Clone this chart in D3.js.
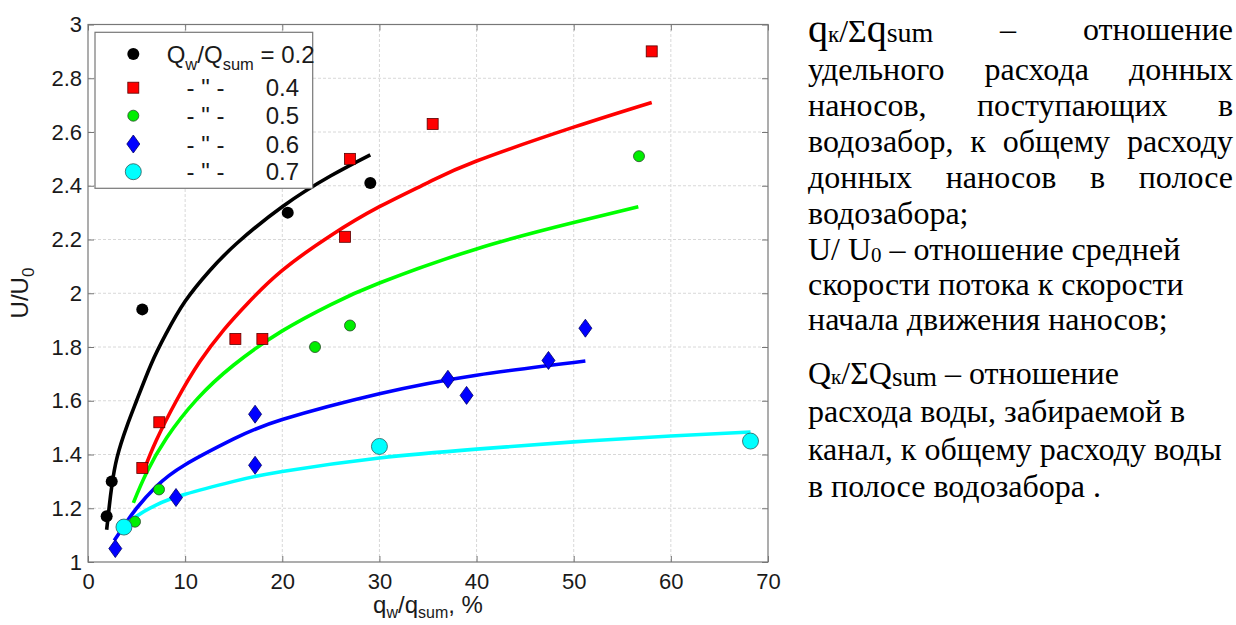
<!DOCTYPE html>
<html><head><meta charset="utf-8">
<script src="https://cdn.jsdelivr.net/npm/d3@7"></script>
<style>
body{margin:0;background:#fff;}
#wrap{position:relative;width:1236px;height:625px;overflow:hidden;background:#fff;}
svg{position:absolute;left:0;top:0;}
.note{position:absolute;left:808px;width:425px;font-family:"Liberation Serif","Times New Roman",serif;font-size:32px;line-height:36px;color:#000;white-space:nowrap;}
.note.j{text-align:justify;text-align-last:justify;white-space:normal;}
</style></head><body><div id="wrap"></div>
<script>
// ---------- data ----------
const xTicks=[0,10,20,30,40,50,60,70];
const yTicks=[1,1.2,1.4,1.6,1.8,2,2.2,2.4,2.6,2.8,3];
const seriesLabels=["0.2","0.4","0.5","0.6","0.7"];
const seriesColors=["#000000","#ff0000","#00ff00","#0000ff","#00ffff"];
// measured points [q_w/q_sum %, U/U0]
const pts02=[[1.92,1.17],[2.44,1.30],[5.59,1.94],[20.56,2.30],[29.06,2.41]];
const pts04=[[5.59,1.35],[7.34,1.52],[15.17,1.83],[17.95,1.83],[26.46,2.21],[26.97,2.50],[35.48,2.63],[58.03,2.90]];
const pts05=[[4.84,1.15],[7.31,1.27],[23.37,1.80],[26.97,1.88],[56.72,2.51]];
const pts06=[[2.81,1.05],[9.06,1.24],[17.2,1.36],[17.2,1.55],[37.05,1.68],[38.97,1.62],[47.4,1.75],[51.2,1.87]];
const pts07=[[3.7,1.13],[30.0,1.43],[68.2,1.45]];
// trend curves
const fit02=[[1.92,1.12],[2.2,1.21],[2.44,1.28],[3,1.39],[4,1.505],[5,1.60],[6.5,1.736],[8,1.847],[10,1.97],[12.5,2.083],[15.3,2.185],[20,2.322],[25,2.437],[29.06,2.515]];
const fit04=[[5.69,1.335],[7,1.45],[9.1,1.60],[11.5,1.745],[14,1.865],[16.5,1.965],[20,2.085],[25,2.215],[30,2.322],[35,2.412],[40,2.492],[50,2.618],[58.03,2.71]];
const fit05=[[4.67,1.22],[6,1.33],[8.1,1.462],[11.2,1.605],[15,1.733],[20,1.86],[25,1.958],[30,2.038],[40,2.165],[50,2.263],[56.65,2.322]];
const fit06=[[2.7,1.08],[4,1.15],[5,1.20],[7,1.28],[10,1.362],[15,1.458],[20,1.53],[30,1.626],[40,1.695],[51.2,1.748]];
const fit07=[[3.64,1.13],[5,1.17],[7,1.212],[10,1.252],[15,1.30],[20,1.337],[30,1.387],[40,1.42],[50,1.447],[60,1.469],[68.2,1.484]];
const seriesPts=[pts02,pts04,pts05,pts06,pts07];
const seriesFits=[fit02,fit04,fit05,fit06,fit07];
const markerKinds=["dot","square","circle","diamond","bigcircle"];
// ---------- layout ----------
const W=1236,H=625;
const X0=88,X1=768,YT=24.5,YB=562;
const x=d3.scaleLinear().domain([0,70]).range([X0,X1]);
const y=d3.scaleLinear().domain([1,3]).range([YB,YT]);
const FONT='"Liberation Sans",Arial,Helvetica,sans-serif';
const wrap=d3.select("#wrap");
const svg=wrap.append("svg").attr("width",W).attr("height",H);

// grid
const grid=svg.append("g").attr("stroke","#d8d8d8").attr("stroke-width",1).attr("stroke-dasharray","3,2");
grid.selectAll("line.gx").data(xTicks.slice(1,-1)).join("line")
  .attr("x1",d=>x(d)).attr("x2",d=>x(d)).attr("y1",YB).attr("y2",YT);
grid.selectAll("line.gy").data(yTicks.slice(1,-1)).join("line")
  .attr("y1",d=>y(d)).attr("y2",d=>y(d)).attr("x1",X0).attr("x2",X1);

// curves
const line=d3.line().x(d=>x(d[0])).y(d=>y(d[1])).curve(d3.curveNatural);
svg.append("g").selectAll("path").data(seriesFits).join("path")
  .attr("d",line).attr("fill","none").attr("stroke",(d,i)=>seriesColors[i]).attr("stroke-width",3.6);

// markers
function drawMarker(g,kind,cx,cy){
  if(kind==="dot") g.append("circle").attr("cx",cx).attr("cy",cy).attr("r",6).attr("fill","#000");
  else if(kind==="square") g.append("rect").attr("x",cx-5.5).attr("y",cy-5.5).attr("width",11).attr("height",11).attr("fill","#ff0000").attr("stroke","#5a0000").attr("stroke-width",0.8);
  else if(kind==="circle") g.append("circle").attr("cx",cx).attr("cy",cy).attr("r",5.5).attr("fill","#00ee00").attr("stroke","#2a4a2a").attr("stroke-width",0.8);
  else if(kind==="diamond") g.append("path").attr("d",`M${cx},${cy-9}L${cx+6.5},${cy}L${cx},${cy+9}L${cx-6.5},${cy}Z`).attr("fill","#0000ff").attr("stroke","#000066").attr("stroke-width",0.8);
  else g.append("circle").attr("cx",cx).attr("cy",cy).attr("r",8).attr("fill","#00ffff").attr("stroke","#2a5a5a").attr("stroke-width",0.8);
}
const mg=svg.append("g");
seriesPts.forEach((pts,i)=>pts.forEach(p=>drawMarker(mg,markerKinds[i],x(p[0]),y(p[1]))));

// axes
const axStyle=g=>{g.select(".domain").remove();g.selectAll(".tick line").attr("stroke","#777");
  g.selectAll("text").attr("font-family",FONT).attr("font-size",22).attr("fill","#1a1a1a");};
const fmt=d=>String(+d.toFixed(1));
svg.append("g").attr("transform",`translate(0,${YB})`).call(d3.axisBottom(x).tickValues(xTicks).tickSize(-6).tickPadding(11).tickFormat(fmt)).call(axStyle);
svg.append("g").attr("transform",`translate(${X0},0)`).call(d3.axisLeft(y).tickValues(yTicks).tickSize(-6).tickPadding(6).tickFormat(fmt)).call(axStyle);
svg.append("g").attr("transform",`translate(0,${YT})`).call(d3.axisTop(x).tickValues(xTicks).tickSize(-6).tickFormat("")).call(axStyle);
svg.append("g").attr("transform",`translate(${X1},0)`).call(d3.axisRight(y).tickValues(yTicks).tickSize(-6).tickFormat("")).call(axStyle);
svg.append("rect").attr("x",X0).attr("y",YT).attr("width",X1-X0).attr("height",YB-YT).attr("fill","none").attr("stroke","#777").attr("stroke-width",1.2);

// axis labels
const xl=svg.append("text").attr("x",(X0+X1)/2).attr("y",613).attr("text-anchor","middle")
  .attr("font-family",FONT).attr("font-size",24).attr("fill","#1a1a1a");
xl.append("tspan").text("q");
xl.append("tspan").attr("dy",5).attr("font-size",16).text("w");
xl.append("tspan").attr("dy",-5).text("/q");
xl.append("tspan").attr("dy",5).attr("font-size",16).text("sum");
xl.append("tspan").attr("dy",-5).text(", %");
const yl=svg.append("text").attr("transform","translate(28,293) rotate(-90)").attr("text-anchor","middle")
  .attr("font-family",FONT).attr("font-size",24).attr("fill","#1a1a1a");
yl.append("tspan").text("U/U");
yl.append("tspan").attr("dy",6).attr("font-size",17).text("0");

// legend
const lg=svg.append("g");
lg.append("rect").attr("x",95).attr("y",32.3).attr("width",217.7).attr("height",156).attr("fill","#fff").attr("stroke","#777").attr("stroke-width",1.2);
const rowsY=[54,87.7,115.7,144,171.7];
seriesLabels.forEach((lab,i)=>{
  drawMarker(lg,markerKinds[i],133.3,rowsY[i]);
  if(i===0){
    const t=lg.append("text").attr("x",166.7).attr("y",rowsY[i]+8.5).attr("font-family",FONT).attr("font-size",24).attr("fill","#1a1a1a");
    t.append("tspan").text("Q");
    t.append("tspan").attr("dy",7).attr("font-size",16.5).text("w");
    t.append("tspan").attr("dy",-7).text("/Q");
    t.append("tspan").attr("dy",7).attr("font-size",16.5).text("sum");
    t.append("tspan").attr("dy",-7).text(" = "+lab);
  } else {
    lg.append("text").attr("x",205.5).attr("y",rowsY[i]+8.5).attr("text-anchor","middle").attr("font-family",FONT).attr("font-size",24).attr("fill","#1a1a1a").text('- " -');
    lg.append("text").attr("x",265.7).attr("y",rowsY[i]+8.5).attr("font-family",FONT).attr("font-size",24).attr("fill","#1a1a1a").text(lab);
  }
});

// ---------- right-hand notes ----------
const noteLines=[
  {c:32,html:'<span style="font-size:40px">q</span><span style="font-size:23px">к</span>/Σ<span style="font-size:40px">q</span><span style="font-size:28px">sum</span><span style="position:absolute;left:192px">–</span><span style="position:absolute;right:0">отношение</span>',j:false},
  {c:72,html:'удельного расхода донных',j:true},
  {c:108,html:'наносов, поступающих в',j:true},
  {c:144,html:'водозабор, к общему расходу',j:true},
  {c:180,html:'донных наносов в полосе',j:true},
  {c:216,html:'водозабора;',j:false},
  {c:252,html:'U/ U<span style="font-size:21px;vertical-align:-2px">0</span> – отношение средней',j:false},
  {c:287,html:'скорости потока к скорости',j:false},
  {c:322,html:'начала движения наносов;',j:false},
  {c:376,html:'Q<span style="font-size:21px">к</span>/ΣQ<span style="font-size:27px;vertical-align:-2px">sum</span> – отношение',j:false},
  {c:414,html:'расхода воды, забираемой в',j:false},
  {c:452,html:'канал, к общему расходу воды',j:false},
  {c:489,html:'в полосе водозабора .',j:false}
];
noteLines.forEach(l=>{
  wrap.append("div").attr("class","note"+(l.j?" j":"")).style("top",(l.c-21.4)+"px").html(l.html);
});
</script></body></html>
